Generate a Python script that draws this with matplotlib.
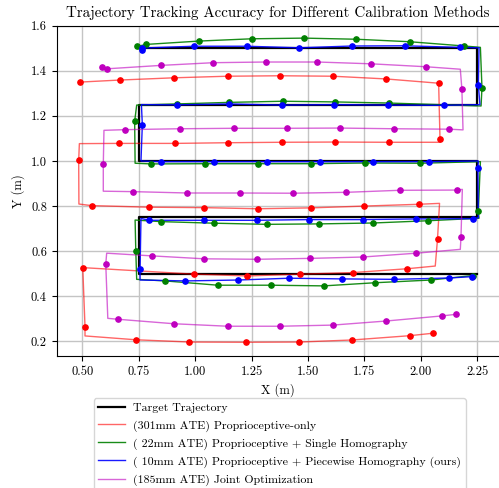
import matplotlib
matplotlib.use("Agg")
import matplotlib.pyplot as plt
import numpy as np

plt.rcParams['font.family'] = 'serif'
plt.rcParams['font.serif'] = ['cmr10']
plt.rcParams['mathtext.fontset'] = 'cm'
plt.rcParams['axes.unicode_minus'] = False
plt.rcParams['axes.formatter.use_mathtext'] = True

# Target boustrophedon path
target_x = [2.25, 0.75, 0.75, 2.25, 2.25, 0.75, 0.75, 2.25, 2.25, 0.75]
target_y = [0.50, 0.50, 0.75, 0.75, 1.00, 1.00, 1.25, 1.25, 1.50, 1.50]

# Measured paths; *_m = 1 where a sample marker is drawn, 0 for a corner vertex
red_x = [2.054, 1.950, 1.695, 1.462, 1.225, 0.975, 0.737, 0.512, 0.512, 0.502,
         0.997, 1.232, 1.465, 1.699, 1.939, 2.064, 2.074, 2.083, 1.992, 1.749,
         1.514, 1.279, 1.041, 0.797, 0.542, 0.485, 0.484, 0.487, 0.664, 0.910,
         1.146, 1.383, 1.618, 1.859, 2.086, 2.085, 2.079, 1.845, 1.610, 1.377,
         1.145, 0.907, 0.666, 0.490]
red_y = [0.236, 0.225, 0.206, 0.197, 0.196, 0.197, 0.207, 0.224, 0.265, 0.527,
         0.498, 0.490, 0.498, 0.505, 0.522, 0.534, 0.654, 0.812, 0.808, 0.800,
         0.792, 0.788, 0.793, 0.795, 0.802, 0.809, 1.003, 1.077, 1.078, 1.078,
         1.081, 1.083, 1.084, 1.083, 1.083, 1.098, 1.345, 1.364, 1.376, 1.378,
         1.376, 1.369, 1.359, 1.350]
red_m = [1, 1, 1, 1, 1, 1, 1, 0, 1, 1,
         1, 1, 1, 1, 1, 0, 1, 0, 1, 1,
         1, 1, 1, 1, 1, 0, 1, 0, 1, 1,
         1, 1, 1, 1, 0, 1, 1, 1, 1, 1,
         1, 1, 1, 1]

green_x = [2.231, 2.045, 1.799, 1.570, 1.335, 1.100, 0.868, 0.741, 0.737, 0.734,
           0.850, 1.085, 1.318, 1.551, 1.790, 2.033, 2.258, 2.255, 2.264, 1.997,
           1.751, 1.514, 1.280, 1.045, 0.805, 0.734, 0.732, 0.741, 0.919, 1.152,
           1.389, 1.619, 1.859, 2.267, 2.271, 2.264, 2.193, 1.950, 1.714, 1.483,
           1.251, 1.019, 0.782, 0.744]
green_y = [0.492, 0.472, 0.460, 0.446, 0.449, 0.449, 0.468, 0.475, 0.602, 0.738,
           0.731, 0.724, 0.719, 0.721, 0.725, 0.735, 0.746, 0.778, 0.997, 0.990,
           0.991, 0.988, 0.988, 0.988, 0.987, 0.990, 1.176, 1.248, 1.253, 1.260,
           1.265, 1.262, 1.257, 1.244, 1.325, 1.504, 1.510, 1.529, 1.540, 1.545,
           1.542, 1.532, 1.517, 1.508]
green_m = [1, 1, 1, 1, 1, 1, 1, 0, 1, 0,
           1, 1, 1, 1, 1, 1, 0, 1, 0, 1,
           1, 1, 1, 1, 1, 0, 1, 0, 1, 1,
           1, 1, 1, 0, 1, 0, 1, 1, 1, 1,
           1, 1, 1, 1]

blue_x = [2.229, 2.125, 1.882, 1.649, 1.417, 1.190, 0.957, 0.756, 0.756, 0.760,
          0.797, 1.038, 1.273, 1.505, 1.742, 1.979, 2.231, 2.255, 2.253, 2.255,
          2.037, 1.790, 1.553, 1.319, 1.085, 0.850, 0.760, 0.766, 0.762, 0.919,
          1.152, 1.386, 1.616, 1.854, 2.101, 2.262, 2.255, 2.258, 2.172, 1.928,
          1.695, 1.462, 1.229, 0.997, 0.763, 0.766]
blue_y = [0.487, 0.481, 0.475, 0.477, 0.480, 0.472, 0.468, 0.472, 0.520, 0.745,
          0.737, 0.737, 0.737, 0.740, 0.740, 0.743, 0.744, 0.748, 0.970, 1.000,
          0.997, 0.997, 0.997, 0.997, 0.997, 0.997, 1.000, 1.160, 1.250, 1.249,
          1.253, 1.248, 1.250, 1.248, 1.247, 1.250, 1.336, 1.502, 1.504, 1.511,
          1.510, 1.502, 1.509, 1.509, 1.501, 1.494]
blue_m = [1, 1, 1, 1, 1, 1, 1, 0, 1, 0,
          1, 1, 1, 1, 1, 1, 1, 0, 1, 0,
          1, 1, 1, 1, 1, 1, 0, 1, 0, 1,
          1, 1, 1, 1, 1, 0, 1, 0, 1, 1,
          1, 1, 1, 1, 1, 1]

mag_x = [2.157, 2.096, 1.845, 1.609, 1.375, 1.145, 0.907, 0.657, 0.613, 0.604,
         0.608, 0.810, 1.041, 1.275, 1.510, 1.742, 1.980, 2.175, 2.178, 2.184,
         2.159, 1.906, 1.669, 1.434, 1.201, 0.966, 0.726, 0.593, 0.593, 0.596,
         0.691, 0.933, 1.173, 1.405, 1.640, 1.879, 2.127, 2.187, 2.182, 2.175,
         2.023, 1.780, 1.542, 1.313, 1.081, 0.848, 0.611, 0.586]
mag_y = [0.320, 0.313, 0.290, 0.272, 0.267, 0.267, 0.278, 0.298, 0.302, 0.542,
         0.591, 0.579, 0.566, 0.564, 0.568, 0.574, 0.591, 0.608, 0.663, 0.874,
         0.871, 0.870, 0.861, 0.857, 0.858, 0.858, 0.864, 0.866, 0.985, 1.136,
         1.139, 1.143, 1.145, 1.145, 1.146, 1.143, 1.141, 1.138, 1.319, 1.407,
         1.418, 1.431, 1.439, 1.439, 1.436, 1.424, 1.409, 1.418]
mag_m = [1, 1, 1, 1, 1, 1, 1, 1, 0, 1,
         0, 1, 1, 1, 1, 1, 1, 0, 1, 0,
         1, 1, 1, 1, 1, 1, 1, 0, 1, 0,
         1, 1, 1, 1, 1, 1, 1, 0, 1, 0,
         1, 1, 1, 1, 1, 1, 1, 1]

labels = ['Target Trajectory',
          '(301mm ATE) Proprioceptive-only',
          '( 22mm ATE) Proprioceptive + Single Homography',
          '( 10mm ATE) Proprioceptive + Piecewise Homography (ours)',
          '(185mm ATE) Joint Optimization']

fig = plt.figure(figsize=(4.99, 4.88), dpi=100)
ax = fig.add_axes([0.1136, 0.2705, 0.888, 0.6768])

handles = []
h, = ax.plot(target_x, target_y, color='k', lw=1.6, zorder=3)
handles.append(h)

series = [(red_x, red_y, red_m, 'r', 0.6),
          (green_x, green_y, green_m, 'g', 0.9),
          (blue_x, blue_y, blue_m, 'b', 0.9),
          (mag_x, mag_y, mag_m, 'm', 0.6)]
for xs, ys, ms, c, a in series:
    xs = np.array(xs)
    ys = np.array(ys)
    sel = np.array(ms) == 1
    h, = ax.plot(xs, ys, color=c, lw=1, alpha=a, zorder=4)
    ax.plot(xs[sel], ys[sel], 'o', color=c, ms=3.8, zorder=5)
    handles.append(h)

ax.set_xlim(0.3865, 2.35)
ax.set_ylim(0.135, 1.6)
ax.set_xticks([0.5, 0.75, 1.0, 1.25, 1.5, 1.75, 2.0, 2.25])
ax.set_xticklabels(['0.50', '0.75', '1.00', '1.25', '1.50', '1.75', '2.00', '2.25'])
ax.set_yticks([0.2, 0.4, 0.6, 0.8, 1.0, 1.2, 1.4, 1.6])
ax.set_yticklabels(['0.2', '0.4', '0.6', '0.8', '1.0', '1.2', '1.4', '1.6'])
ax.tick_params(labelsize=9)
ax.grid(True, color='#c4c4c4', lw=1)
ax.set_xlabel('X (m)', fontsize=9)
ax.set_ylabel('Y (m)', fontsize=9)
ax.set_title('Trajectory Tracking Accuracy for Different Calibration Methods', fontsize=10.8)

fig.legend(handles, labels, loc='upper center', bbox_to_anchor=(0.5605, 0.196),
           fontsize=8.6, labelspacing=0.55, borderpad=0.4, handlelength=2.2,
           handletextpad=0.7)

fig.savefig('out.png', dpi=100)
